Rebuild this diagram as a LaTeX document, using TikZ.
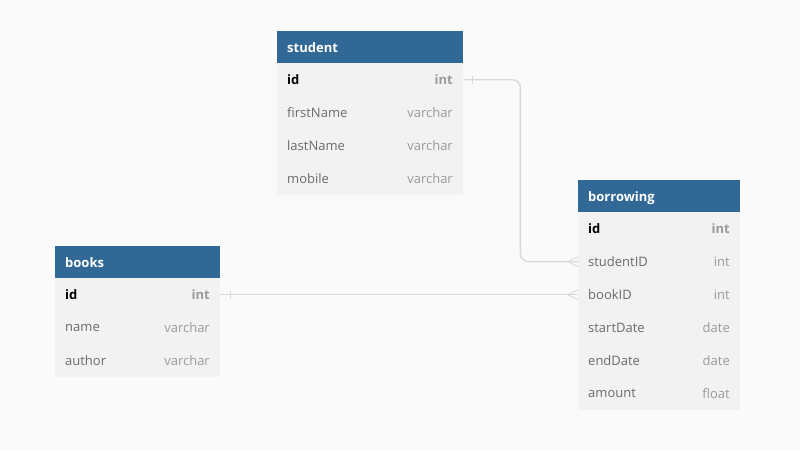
\documentclass[tikz,border=0pt]{standalone}
\usepackage{fontspec}
\setmainfont{Open Sans}
\usetikzlibrary{calc}
\definecolor{bg}{HTML}{FAFAFA}
\definecolor{hdr}{HTML}{316896}
\definecolor{rowbg}{HTML}{F2F2F2}
\definecolor{nametxt}{HTML}{6B6B6B}
\definecolor{typetxt}{HTML}{9A9A9A}
\definecolor{conncol}{HTML}{D9D9D9}
\tikzset{
  hdrbox/.style={draw=none,fill=hdr,anchor=north west,minimum height=32.5pt,inner xsep=10pt,inner ysep=0pt,text=white,font=\fontsize{13}{15}\selectfont\bfseries,align=left,text depth=0pt},
  rowbox/.style={draw=none,fill=rowbg,anchor=north west,minimum height=33pt,inner xsep=10pt,inner ysep=0pt,text=nametxt,font=\fontsize{13}{15}\selectfont,align=left},
  keybox/.style={rowbox,text=black,font=\fontsize{13}{15}\selectfont\bfseries},
  typetext/.style={anchor=east,inner sep=0pt,text=typetxt,font=\fontsize{13}{15}\selectfont},
  keytype/.style={typetext,font=\fontsize{13}{15}\selectfont\bfseries},
  conn/.style={draw=conncol,line width=1.4pt},
}
\begin{document}
\begin{tikzpicture}[x=1pt,y=-1pt]
\fill[bg] (0,0) rectangle (800,450);
\useasboundingbox (0,0) rectangle (800,450);
% ---------- student ----------
\node[hdrbox,minimum width=186pt,text width=166pt] (sh) at (277,31) {student};
\node[keybox,minimum width=186pt,text width=166pt] (sid) at (277,63) {id};
\node[keytype] (sidt) at (453,79.5) {int};
\node[rowbox,minimum width=186pt,text width=166pt] (sfn) at (277,96) {firstName};
\node[typetext] (sfnt) at (453,112.5) {varchar};
\node[rowbox,minimum width=186pt,text width=166pt] (sln) at (277,129) {lastName};
\node[typetext] (slnt) at (453,145.5) {varchar};
\node[rowbox,minimum width=186pt,text width=166pt] (smo) at (277,162) {mobile};
\node[typetext] (smot) at (453,178.5) {varchar};
% ---------- borrowing ----------
\node[hdrbox,minimum width=162pt,text width=142pt] (bh) at (578,180) {borrowing};
\node[keybox,minimum width=162pt,text width=142pt] (bid) at (578,212) {id};
\node[keytype] (bidt) at (730,228.5) {int};
\node[rowbox,minimum width=162pt,text width=142pt] (bsid) at (578,245) {studentID};
\node[typetext] (bsidt) at (730,261.5) {int};
\node[rowbox,minimum width=162pt,text width=142pt] (bbid) at (578,278) {bookID};
\node[typetext] (bbidt) at (730,294.5) {int};
\node[rowbox,minimum width=162pt,text width=142pt] (bsd) at (578,311) {startDate};
\node[typetext] (bsdt) at (730,327.5) {date};
\node[rowbox,minimum width=162pt,text width=142pt] (bed) at (578,344) {endDate};
\node[typetext] (bedt) at (730,360.5) {date};
\node[rowbox,minimum width=162pt,text width=142pt] (bam) at (578,377) {amount};
\node[typetext] (bamt) at (730,393.5) {float};
% ---------- books ----------
\node[hdrbox,minimum width=165pt,text width=145pt] (kh) at (55,246) {books};
\node[keybox,minimum width=165pt,text width=145pt] (kid) at (55,278) {id};
\node[keytype] (kidt) at (210,294.5) {int};
\node[rowbox,minimum width=165pt,text width=145pt] (kna) at (55,311) {name};
\node[typetext] (knat) at (210,327.5) {varchar};
\node[rowbox,minimum width=165pt,text width=145pt] (kau) at (55,344) {author};
\node[typetext] (kaut) at (210,360.5) {varchar};
% ---------- connectors ----------
\coordinate (c1) at ($(sid.east)+(57,0)$);
\draw[conn,rounded corners=8pt] (sid.east) -- (c1) |- (bsid.west);
\draw[conn] (kid.east) -- (bbid.west);
% one markers
\draw[conn,line width=1pt] ($(sid.east)+(9,-4)$) -- ($(sid.east)+(9,4)$);
\draw[conn,line width=1pt] ($(kid.east)+(10,-4)$) -- ($(kid.east)+(10,4)$);
% crow feet
\draw[conn,line width=1pt] ($(bsid.west)+(0,-5)$) -- ($(bsid.west)+(-10,0)$) -- ($(bsid.west)+(0,5)$);
\draw[conn,line width=1pt] ($(bbid.west)+(0,-5)$) -- ($(bbid.west)+(-10,0)$) -- ($(bbid.west)+(0,5)$);
\end{tikzpicture}
\end{document}
